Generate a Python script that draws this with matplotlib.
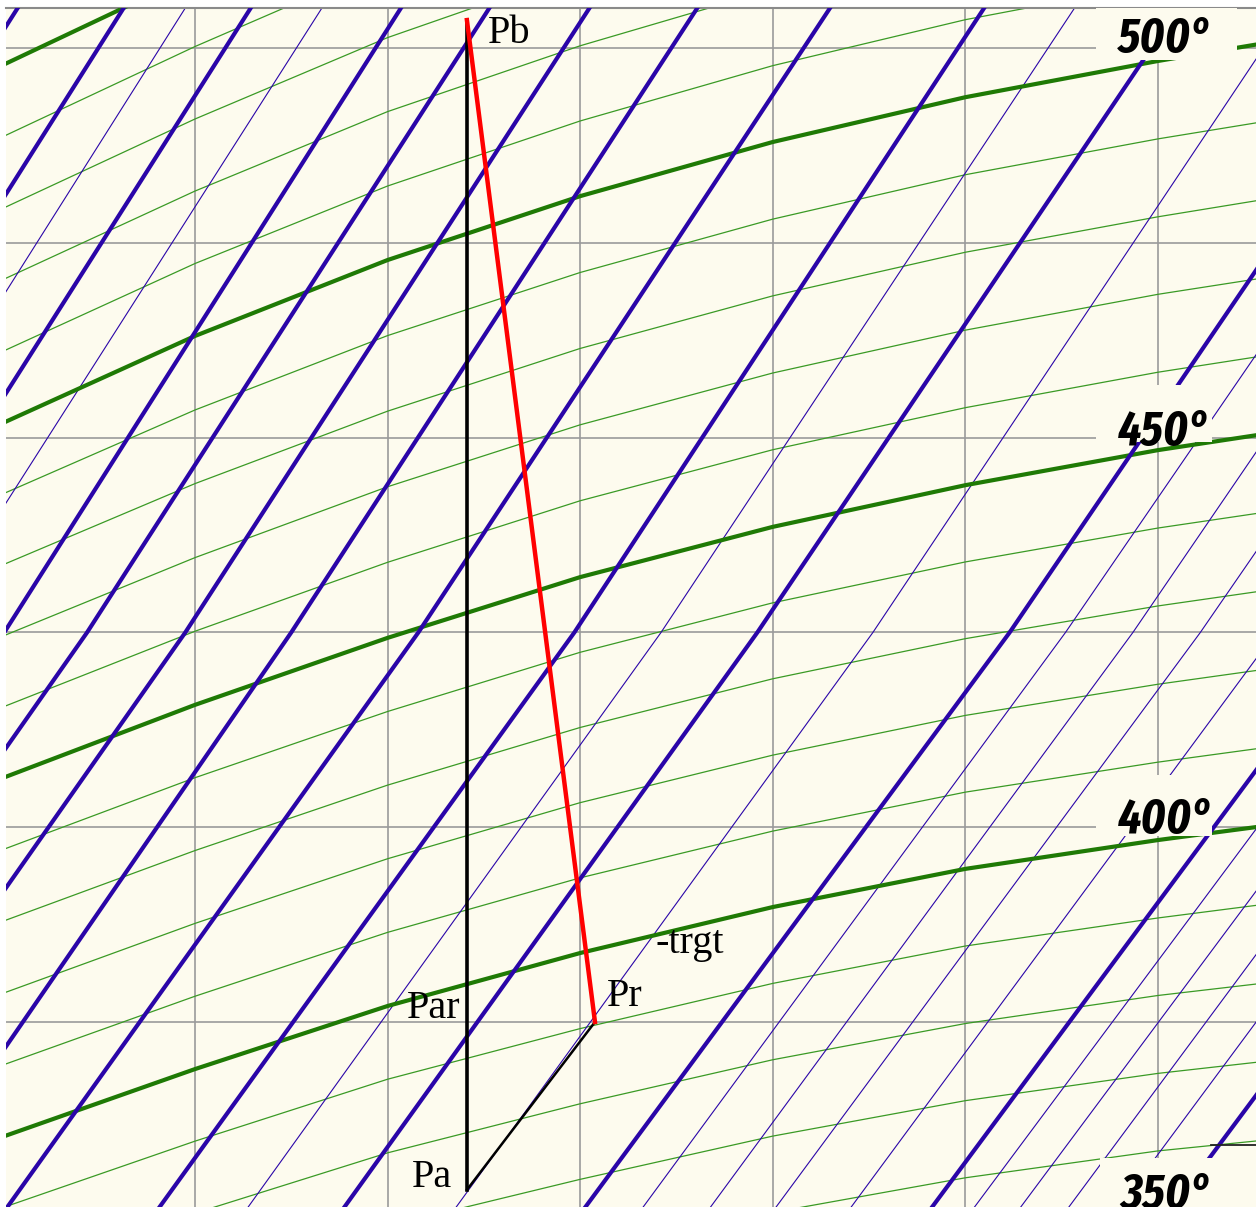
import os
import matplotlib
matplotlib.use('Agg')
import matplotlib.pyplot as plt
from matplotlib import font_manager
from matplotlib.font_manager import FontProperties
from matplotlib.patches import Rectangle

# isotherms: enthalpy h [kJ/kg] read at fixed entropy columns s [kJ/kgK]
s_cols = [6.50, 6.60, 6.70, 6.80, 6.90, 7.00, 7.10, 7.152]
iso_temps = [360, 370, 380, 390, 400, 410, 420, 430, 440, 450,
             460, 470, 480, 490, 500, 510, 520, 530, 540, 550]
iso_h = [
    [2997.6, 3013.8, 3028.7, 3040.3, 3051.1, 3060.0, 3066.9, 3069.5],
    [3015.8, 3032.3, 3047.6, 3059.6, 3070.7, 3079.8, 3086.8, 3089.7],
    [3034.1, 3050.9, 3066.4, 3079.0, 3090.3, 3099.6, 3106.8, 3109.8],
    [3052.3, 3069.4, 3085.3, 3098.3, 3109.9, 3119.5, 3126.7, 3130.0],
    [3070.5, 3087.9, 3104.1, 3117.7, 3129.5, 3139.3, 3146.7, 3150.1],
    [3088.9, 3106.6, 3123.0, 3137.0, 3149.0, 3159.0, 3166.7, 3170.2],
    [3107.3, 3125.3, 3141.9, 3156.3, 3168.5, 3178.7, 3186.7, 3190.3],
    [3125.8, 3144.0, 3160.8, 3175.6, 3188.1, 3198.4, 3206.8, 3210.5],
    [3144.2, 3162.7, 3179.7, 3194.9, 3207.6, 3218.1, 3226.8, 3230.6],
    [3162.6, 3181.4, 3198.6, 3214.2, 3227.1, 3237.8, 3246.8, 3250.7],
    [3180.8, 3200.3, 3218.0, 3233.8, 3246.9, 3257.7, 3266.8, 3270.8],
    [3199.0, 3219.2, 3237.4, 3253.3, 3266.6, 3277.6, 3286.8, 3290.8],
    [3217.3, 3238.2, 3256.8, 3272.9, 3286.4, 3297.6, 3306.7, 3310.9],
    [3235.5, 3257.1, 3276.2, 3292.4, 3306.1, 3317.5, 3326.7, 3330.9],
    [3253.7, 3276.1, 3295.6, 3312.0, 3325.9, 3337.4, 3346.7, 3351.0],
    [3272.1, 3294.7, 3314.6, 3331.3, 3345.5, 3357.3, 3366.7, 3371.1],
    [3290.5, 3313.3, 3333.7, 3350.6, 3365.1, 3377.2, 3386.7, 3391.2],
    [3308.8, 3331.8, 3352.7, 3369.9, 3384.7, 3397.0, 3406.8, 3411.2],
    [3327.2, 3350.4, 3371.8, 3389.2, 3404.3, 3416.9, 3426.8, 3431.3],
    [3345.6, 3369.0, 3390.8, 3408.5, 3423.9, 3436.8, 3446.8, 3451.4],
]
thick_temps = [400, 450, 500, 550]

# isobars: entropy s at three enthalpy levels
h_rows = [3050, 3200, 3365]
p_bar = [160, 140, 130, 120, 110, 100, 90, 80, 70, 60, 50, 45, 40, 35,
         30, 28, 26, 24, 22, 20, 19, 18, 17, 16, 15, 14]
s_bottom = [6.093, 6.148, 6.181, 6.214, 6.250, 6.292, 6.331, 6.382, 6.441,
            6.499, 6.578, 6.624, 6.674, 6.732, 6.799, 6.829, 6.864, 6.898,
            6.937, 6.979, 7.001, 7.025, 7.050, 7.076, 7.104, 7.133]
s_mid = [6.302, 6.358, 6.390, 6.423, 6.459, 6.501, 6.544, 6.595, 6.650,
         6.716, 6.797, 6.842, 6.892, 6.952, 7.023, 7.052, 7.087, 7.122,
         7.161, 7.204, 7.227, 7.251, 7.275, 7.301, 7.330, 7.359]
s_top = [6.514, 6.569, 6.601, 6.635, 6.672, 6.713, 6.759, 6.811, 6.867,
         6.936, 7.016, 7.063, 7.117, 7.175, 7.250, 7.281, 7.315, 7.352,
         7.392, 7.435, 7.459, 7.482, 7.507, 7.533, 7.562, 7.591]
thick_p = [160, 140, 120, 100, 90, 80, 70, 60, 50, 40, 30, 20, 15]

# process points
pt_names = ['Pa', 'Pr', 'Pb']
pt_s = [6.7412, 6.8077, 6.7412]
pt_h = [3056.9, 3100.0, 3357.2]

# temperature labels
t_labels = ['500°', '450°', '400°', '350°']
t_label_s = [7.079, 7.079, 7.079, 7.081]
t_label_h = [3349.0, 3248.1, 3148.5, 3052.3]
# background boxes behind them (s0, h0, s1, h1)
t_box = [(7.068, 3346.9, 7.141, 3366.0),
         (7.068, 3248.9, 7.128, 3263.5),
         (7.068, 3147.7, 7.128, 3163.4),
         (7.070, 3040.0, 7.160, 3065.1)]

bg = '#fdfbee'
blue = '#2a05a8'
green_thick = '#1f7a05'
green_thin = '#3a9a25'


def label_font():
    # tall narrow bold italic face, if one is installed
    best, best_score = None, -1
    for f in font_manager.fontManager.ttflist:
        low = os.path.basename(f.fname).lower().replace('-', '').replace(' ', '')
        narrow = ('narrow' in low or 'condensed' in low
                  or 'narrow' in f.name.lower() or 'condensed' in str(f.stretch))
        if not narrow or 'semicondensed' in low:
            continue
        w = f.weight if isinstance(f.weight, int) else font_manager.weight_dict.get(f.weight, 400)
        score = 0
        if w == 700:
            score += 4
        elif w >= 600:
            score += 2
        if f.style in ('italic', 'oblique'):
            score += 2
        if 'extracondensed' in low:
            score += 1
        if score > best_score:
            best, best_score = f, score
    if best is None:
        return FontProperties(family=['Liberation Sans', 'DejaVu Sans'],
                              weight='bold', style='italic')
    return FontProperties(fname=best.fname)


fig = plt.figure(figsize=(12.56, 12.07), dpi=100)
ax = fig.add_axes([6 / 1256, 0, 1 - 6 / 1256, 1 - 8 / 1207])
ax.set_facecolor(bg)
ax.set_xlim(6.5019, 7.1509)
ax.set_ylim(3052.5, 3360.3)

for s in [6.6, 6.7, 6.8, 6.9, 7.0, 7.1]:
    ax.axvline(s, color='#9a9a9a', lw=1.2, zorder=1)
for h in [3100, 3150, 3200, 3250, 3300, 3350]:
    ax.axhline(h, color='#9a9a9a', lw=1.2, zorder=1)

for T, hs in zip(iso_temps, iso_h):
    if T in thick_temps:
        ax.plot(s_cols, hs, color=green_thick, lw=3.0, zorder=3)
    else:
        ax.plot(s_cols, hs, color=green_thin, lw=0.9, zorder=2)

for p, sb, sm, st in zip(p_bar, s_bottom, s_mid, s_top):
    if p in thick_p:
        ax.plot([sb, sm, st], h_rows, color=blue, lw=3.0, zorder=4)
    else:
        ax.plot([sb, sm, st], h_rows, color=blue, lw=0.8, zorder=2.5)

ax.plot([7.1275, 7.152], [3068.5, 3068.5], color='#222222', lw=1.3, zorder=4)

for (s0, h0, s1, h1) in t_box:
    ax.add_patch(Rectangle((s0, h0), s1 - s0, h1 - h0, facecolor=bg,
                           edgecolor='none', zorder=5))

# size the degree labels so "450°" spans about 92 px
fp = label_font()
fp.set_size(40)
renderer = fig.canvas.get_renderer()
probe = fig.text(0, 0, '450°', fontproperties=fp)
width = probe.get_window_extent(renderer).width
probe.remove()
fp.set_size(min(44, 40 * 92 / width))

for txt, s, h in zip(t_labels, t_label_s, t_label_h):
    ax.text(s, h, txt, fontproperties=fp, ha='left', va='baseline',
            zorder=6, clip_on=True)

# process lines
ax.plot([pt_s[0], pt_s[2]], [pt_h[0], pt_h[2]], color='black', lw=2.6, zorder=7)
ax.plot([pt_s[0], pt_s[1]], [pt_h[0], pt_h[1]], color='black', lw=1.8, zorder=7)
ax.plot([pt_s[2], pt_s[1]], [pt_h[2], pt_h[1]], color='#ff0000', lw=3.2, zorder=8)

serif = ['Liberation Serif', 'DejaVu Serif']
ax.text(6.7520, 3351.3, 'Pb', fontsize=29, family=serif, va='baseline', zorder=9)
ax.text(6.7099, 3101.0, 'Par', fontsize=29, family=serif, va='baseline', zorder=9)
ax.text(6.8140, 3104.1, 'Pr', fontsize=29, family=serif, va='baseline', zorder=9)
ax.text(6.7125, 3057.7, 'Pa', fontsize=29, family=serif, va='baseline', zorder=9)
ax.text(6.8390, 3117.6, '-trgt', fontsize=29, family=serif, va='baseline', zorder=9)

for side in ['left', 'right', 'bottom']:
    ax.spines[side].set_visible(False)
ax.spines['top'].set_color('#8a8a8a')
ax.spines['top'].set_linewidth(1.5)
ax.set_xticks([])
ax.set_yticks([])

fig.savefig('out.png', dpi=100, facecolor='white')
